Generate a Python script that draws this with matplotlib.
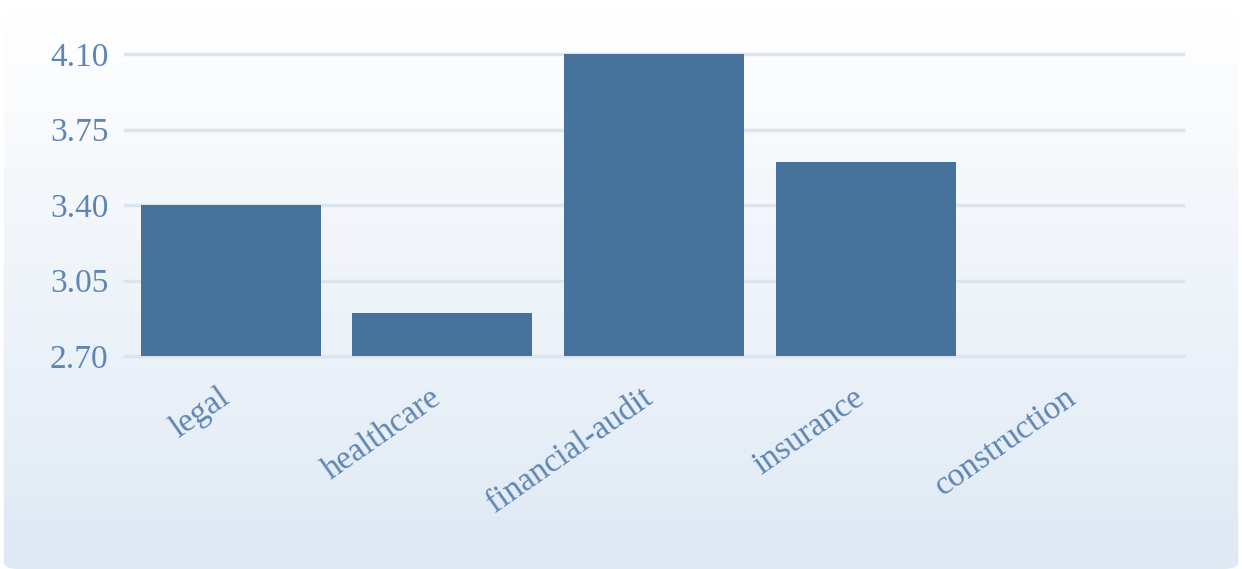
import numpy as np
import matplotlib.pyplot as plt
from matplotlib.patches import FancyBboxPatch
from matplotlib.transforms import ScaledTranslation

categories = ['legal', 'healthcare', 'financial-audit', 'insurance', 'construction']
values = [3.40, 2.90, 4.10, 3.60, 2.70]
yticks = [2.70, 3.05, 3.40, 3.75, 4.10]

bar_color = '#46729c'
text_color = '#5f86b2'
grid_color = '#dce4ee'

plt.rcParams['font.family'] = ['Liberation Serif', 'DejaVu Serif']

fig = plt.figure(figsize=(12.42, 5.69), dpi=100)

# card background with vertical gradient
bg = fig.add_axes([0, 0, 1, 1])
bg.set_xlim(0, 1)
bg.set_ylim(0, 1)
bg.axis('off')
grad = np.linspace(0, 1, 256).reshape(-1, 1)
top = np.array([1.0, 1.0, 1.0])
bottom = np.array([0xdf, 0xe9, 0xf4]) / 255
img = top + (bottom - top) * grad[:, :, None]
card = FancyBboxPatch((0.003, 0.0), 0.994, 0.982,
                      boxstyle='round,pad=0,rounding_size=0.012',
                      transform=bg.transAxes, facecolor='none', edgecolor='none')
bg.add_patch(card)
im = bg.imshow(img, extent=[0, 1, 0, 0.982], aspect='auto', origin='upper', zorder=0)
im.set_clip_path(card)

ax = fig.add_axes([125 / 1242, 1 - 356 / 569, (1183 - 125) / 1242, (356 - 54) / 569])
ax.patch.set_alpha(0)
x = np.arange(len(categories))
ax.bar(x, np.array(values) - yticks[0], bottom=yticks[0], width=0.85,
       color=bar_color, zorder=3)
ax.set_xlim(-0.5, len(categories) - 0.5)
ax.set_ylim(yticks[0], yticks[-1])
ax.set_yticks(yticks)
ax.set_yticklabels([f'{t:.2f}' for t in yticks])
ax.yaxis.grid(True, color=grid_color, linewidth=2.5, zorder=0)
for gl in ax.get_ygridlines():
    gl.set_clip_on(False)
ax.set_axisbelow(True)
for s in ax.spines.values():
    s.set_visible(False)
ax.tick_params(axis='y', length=0, pad=12, labelsize=24, labelcolor=text_color)
ax.tick_params(axis='x', length=0, pad=19, labelsize=24, labelcolor=text_color)
ax.set_xticks(x)
ax.set_xticklabels(categories, rotation=35, ha='right', rotation_mode='anchor')
shift = ScaledTranslation(-13 / 100, 0, fig.dpi_scale_trans)
for lbl in ax.get_xticklabels():
    lbl.set_transform(lbl.get_transform() + shift)

fig.savefig('out.png', dpi=100)
